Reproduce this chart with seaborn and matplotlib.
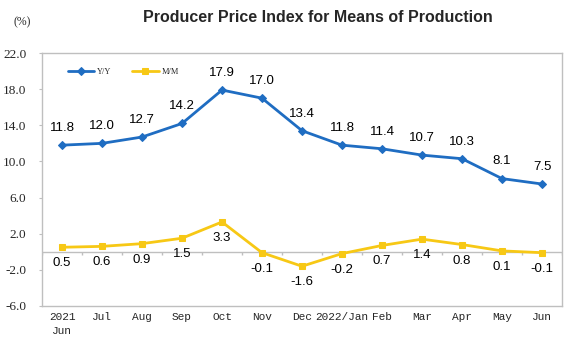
import matplotlib
matplotlib.use("Agg")
import matplotlib.pyplot as plt
import seaborn as sns
import pandas as pd
import numpy as np

months = ["2021\nJun", "Jul", "Aug", "Sep", "Oct", "Nov", "Dec", "2022/Jan",
          "Feb", "Mar", "Apr", "May", "Jun"]
yoy = [11.8, 12.0, 12.7, 14.2, 17.9, 17.0, 13.4, 11.8, 11.4, 10.7, 10.3, 8.1, 7.5]
mom = [0.5, 0.6, 0.9, 1.5, 3.3, -0.1, -1.6, -0.2, 0.7, 1.4, 0.8, 0.1, -0.1]
yticks = [-6.0, -2.0, 2.0, 6.0, 10.0, 14.0, 18.0, 22.0]

BLUE = "#1F6DC2"
YELLOW = "#F7C815"

sns.set_style("white")
plt.rcParams["font.family"] = ["Liberation Sans", "DejaVu Sans"]

df = pd.DataFrame({"idx": np.arange(len(months)), "yoy": yoy, "mom": mom})

fig = plt.figure(figsize=(5.68, 3.6), dpi=100)
ax = fig.add_axes([42/568, 1-306/360, 520/568, 253/360])

sns.lineplot(data=df, x="idx", y="yoy", ax=ax, color=BLUE, linewidth=2,
             marker="D", markersize=4, markeredgecolor=BLUE, label="Y/Y")
sns.lineplot(data=df, x="idx", y="mom", ax=ax, color=YELLOW, linewidth=2,
             marker="s", markersize=5, markeredgecolor=YELLOW, label="M/M")

ax.set_xlim(-0.5, len(months) - 0.5)
ax.set_ylim(yticks[0], yticks[-1])
ax.set_yticks(yticks)
ax.set_yticklabels([f"{v:.1f}" for v in yticks], family="Liberation Serif", fontsize=9.5)
ax.set_xticks(np.arange(len(months)))
ax.set_xticklabels(months, family="Liberation Mono", fontsize=8, linespacing=1.5)
ax.tick_params(axis="x", length=0, pad=4)
ax.tick_params(axis="y", length=2.2, color="#BFBFBF", left=True, direction="out", pad=9)
ax.set_xlabel("")
ax.set_ylabel("")

for s in ax.spines.values():
    s.set_color("#BFBFBF")
    s.set_linewidth(1)

# zero line with category boundary ticks
ax.axhline(0, color="#BFBFBF", linewidth=1, zorder=1)
bounds = np.arange(len(months) + 1) - 0.5
ax.vlines(bounds, -0.35, 0, color="#BFBFBF", linewidth=1, zorder=1)

for i, v in enumerate(yoy):
    ax.annotate(f"{v:.1f}", (i, v), xytext=(0, 8), textcoords="offset points",
                ha="center", va="bottom", fontsize=9.5, color="black")
for i, v in enumerate(mom):
    ax.annotate(f"{v:.1f}", (i, v), xytext=(0, -11.5), textcoords="offset points",
                ha="center", va="center", fontsize=9.5, color="black")

leg = ax.legend(loc="upper left", bbox_to_anchor=(0.035, 0.97), ncol=2, frameon=False,
                prop={"family": "Liberation Serif", "size": 6}, handlelength=3.2,
                columnspacing=2.5, handletextpad=0.3)

fig.text(318/568, 1-17/360, "Producer Price Index for Means of Production",
         ha="center", va="center", fontsize=11.5, fontweight="bold")
fig.text(22/568, 1-22/360, "(%)", ha="center", va="center", fontsize=8.5,
         family="Liberation Serif")

fig.savefig("out.png", dpi=100)
